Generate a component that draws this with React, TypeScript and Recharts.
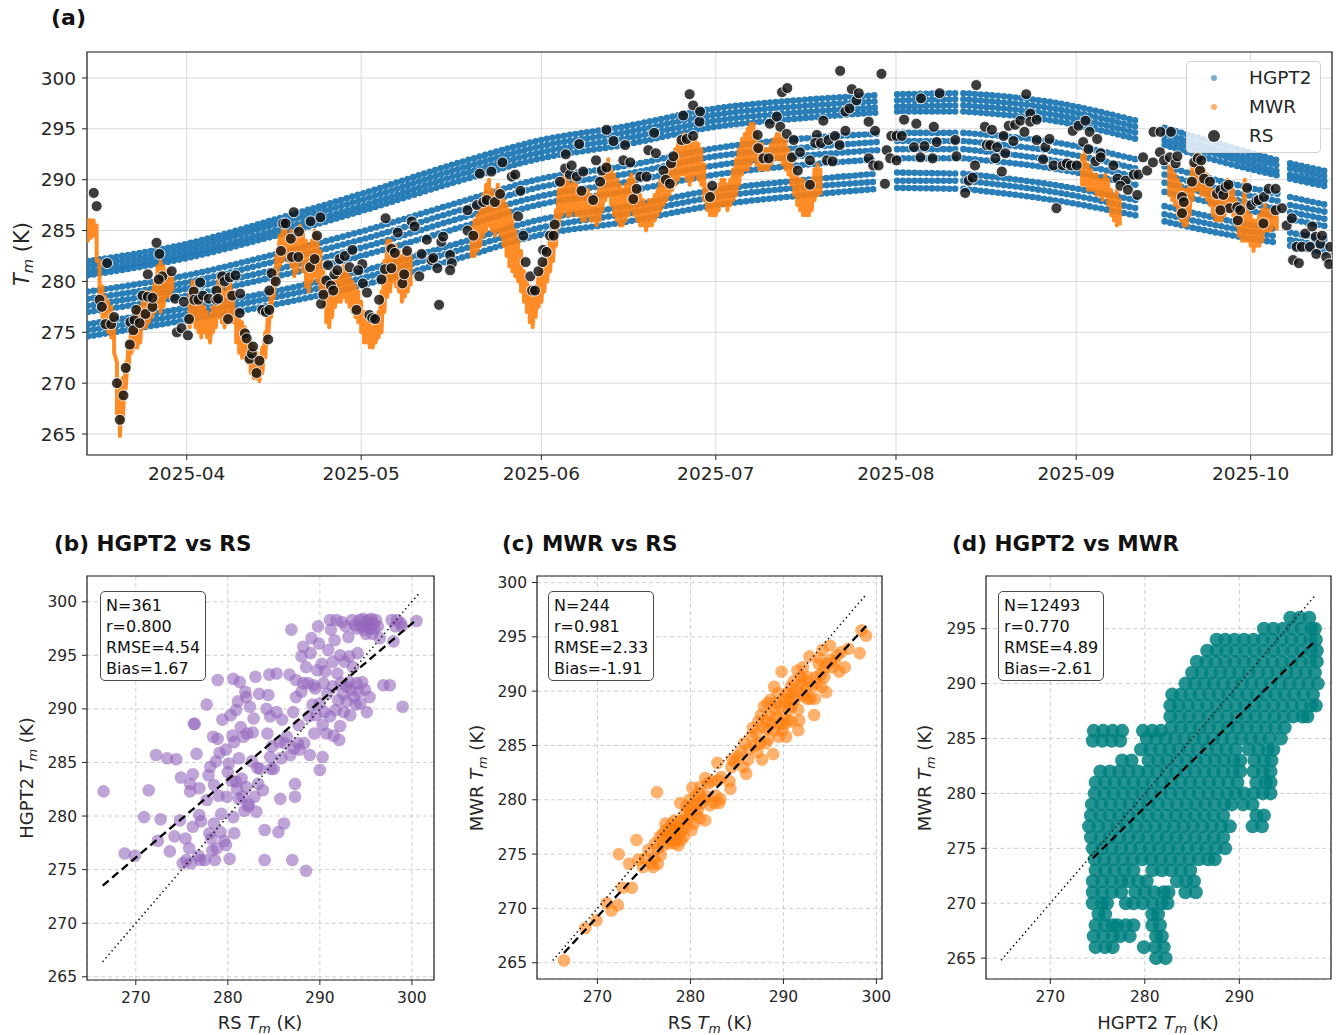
import React from 'react';
import {
  ComposedChart,
  ScatterChart,
  Scatter,
  Line,
  XAxis,
  YAxis,
  CartesianGrid,
  ReferenceArea,
} from 'recharts';

const FONT = '"DejaVu Sans", "Liberation Sans", sans-serif';
const INK = '#262626';

// ---------- panel (a): time series, x = day of year 2025 ----------
const MONTH_TICKS = [91, 121, 152, 182, 213, 244, 274];
const MONTH_LABELS = ['2025-04', '2025-05', '2025-06', '2025-07', '2025-08', '2025-09', '2025-10'];
const TM_TICKS_A = [265, 270, 275, 280, 285, 290, 295, 300];

// HGPT2 bands (one row per hour-of-day band), read about every two weeks; null = gap
const HG_DAYS = [74, 91, 105, 121, 138, 152, 166, 182, 196, 209.8, 211.5, 213.2, 223.7, 224.1, 224.6, 240, 255, 257, 259.2, 270, 278.7, 279.7, 280.8, 287.2];
const HG_ROWS: (number | null)[][] = [
  [282.0, 283.7, 285.9, 288.6, 291.7, 293.9, 295.2, 297.0, 297.8, 298.3, null, 298.4, 298.5, null, 298.5, 297.6, 295.7, null, 295.1, 293.3, 291.9, null, 291.6, 290.8],
  [281.5, 283.2, 285.4, 288.0, 291.1, 293.3, 294.6, 296.4, 297.2, 297.7, null, 297.8, 297.9, null, 297.9, 297.0, 295.1, null, 294.5, 292.7, 291.4, null, 291.1, 290.3],
  [281.0, 282.7, 284.8, 287.4, 290.5, 292.7, 294.0, 295.8, 296.6, 297.1, null, 297.2, 297.3, null, 297.3, 296.4, 294.5, null, 293.9, 292.2, 290.8, null, 290.5, 289.8],
  [280.6, 282.3, 284.3, 286.9, 289.9, 292.1, 293.4, 295.2, 296.0, 296.6, null, 296.7, 296.7, null, 296.7, 295.8, 293.9, null, 293.4, 291.6, 290.4, null, 290.1, 289.3],
  [279.0, 280.6, 282.5, 284.9, 287.8, 290.1, 291.3, 293.1, 294.0, 294.5, null, 294.6, 294.6, null, 294.6, 293.7, 291.9, null, 291.3, 289.7, 288.6, null, 288.3, 287.5],
  [278.3, 279.9, 281.8, 284.1, 287.0, 289.3, 290.5, 292.3, 293.1, 293.7, null, 293.8, 293.8, null, 293.8, 292.8, 291.0, null, 290.5, 288.9, 287.9, null, 287.5, 286.8],
  [277.6, 279.3, 281.0, 283.3, 286.2, 288.4, 289.7, 291.4, 292.3, 292.9, null, 293.0, 293.0, null, 293.0, 291.9, 290.2, null, 289.7, 288.2, 287.1, null, 286.8, 286.1],
  [277.0, 278.6, 280.3, 282.5, 285.3, 287.6, 288.8, 290.5, 291.4, 292.0, null, 292.1, 292.1, null, 292.1, 291.1, 289.4, null, 288.8, 287.4, 286.4, null, 286.1, 285.4],
  [275.8, 277.4, 278.9, 281.0, 283.8, 286.1, 287.3, 289.0, 289.9, 290.6, null, 290.7, 290.6, null, 290.6, 289.5, 287.9, null, 287.4, 286.0, 285.1, null, 284.8, 284.1],
  [275.2, 276.8, 278.3, 280.3, 283.1, 285.3, 286.6, 288.3, 289.2, 289.8, null, 289.9, 289.9, null, 289.9, 288.8, 287.1, null, 286.6, 285.3, 284.4, null, 284.1, 283.4],
  [274.6, 276.2, 277.6, 279.6, 282.3, 284.6, 285.8, 287.5, 288.4, 289.1, null, 289.2, 289.1, null, 289.1, 288.0, 286.4, null, 285.9, 284.6, 283.8, null, 283.5, 282.8],
];

// MWR streaks: [day, upper, lower] every half day
const MWR_MAR: [number, number, number][] = [
  [74, 286.2, 284.0], [74.5, 286.0, 284.3], [75, 286.0, 284.5], [75.5, 285.5, 282.0], [76, 282.0, 278.0],
  [76.5, 279.5, 276.5], [77, 278.5, 275.5], [77.5, 278.0, 275.0], [78, 277.5, 274.5], [78.5, 276.5, 273.0],
  [79, 272.0, 267.0], [79.5, 270.0, 264.8], [80, 270.5, 266.5], [80.5, 272.0, 269.5], [81, 274.0, 271.5],
  [81.5, 276.0, 273.0], [82, 277.0, 273.5], [82.5, 277.5, 273.5], [83, 277.5, 274.0], [83.5, 278.5, 275.5],
  [84, 279.0, 275.5], [84.5, 278.5, 276.0], [85, 279.0, 276.5], [85.5, 280.0, 277.0], [86, 281.5, 277.5],
  [86.5, 282.0, 277.0], [87, 281.5, 277.5], [87.5, 281.0, 278.5], [88, 281.0, 278.5], [88.5, 280.5, 279.0],
];
const MWR_APR: [number, number, number][] = [
  [91.5, 279.0, 275.5], [92, 280.0, 276.0], [92.5, 279.5, 275.5], [93, 278.5, 275.0], [93.5, 278.0, 274.5],
  [94, 277.5, 275.0], [94.5, 277.0, 274.5], [95, 276.5, 274.0], [95.5, 277.5, 275.0], [96, 278.5, 275.5],
  [96.5, 280.5, 276.5], [97, 279.5, 276.0], [97.5, 279.0, 275.5], [98, 279.5, 276.0], [98.5, 280.0, 276.5],
  [99, 279.0, 276.0], [99.5, 277.0, 274.0], [100, 276.5, 273.0], [100.5, 276.0, 272.5], [101, 275.5, 272.5],
  [101.5, 275.0, 272.0], [102, 274.0, 271.0], [102.5, 273.5, 270.5], [103, 273.0, 270.5], [103.5, 272.0, 270.2],
  [104, 273.5, 271.0], [104.5, 275.0, 272.5], [105, 277.0, 274.5], [105.5, 279.0, 276.5], [106, 281.0, 278.5],
  [106.5, 283.0, 280.0], [107, 284.5, 281.5], [107.5, 285.0, 282.0], [108, 285.0, 282.5], [108.5, 284.5, 282.0],
  [109, 285.0, 281.5], [109.5, 284.0, 280.5], [110, 284.5, 281.0], [110.5, 285.5, 282.0], [111, 285.0, 281.0],
  [111.5, 284.0, 279.5], [112, 283.5, 279.0], [112.5, 284.0, 280.0], [113, 285.0, 280.5], [113.5, 284.5, 280.0],
  [114, 283.0, 279.0], [114.5, 281.0, 277.5], [115, 280.0, 276.0], [115.5, 279.5, 275.5], [116, 280.0, 276.5],
  [116.5, 281.0, 277.5], [117, 281.0, 278.0], [117.5, 280.5, 278.0], [118, 281.5, 278.5], [118.5, 281.0, 278.0],
  [119, 280.5, 277.5], [119.5, 280.0, 277.0], [120, 279.5, 276.5], [120.5, 279.0, 276.0], [121, 278.0, 275.0],
  [121.5, 277.0, 274.0], [122, 276.5, 274.0], [122.5, 276.0, 273.5], [123, 275.5, 273.5], [123.5, 276.5, 274.0],
  [124, 277.0, 274.5], [124.5, 279.0, 275.0], [125, 282.0, 277.0], [125.5, 284.0, 278.5], [126, 284.0, 279.0],
  [126.5, 283.5, 280.0], [127, 283.5, 279.5], [127.5, 283.0, 279.0], [128, 282.5, 278.0], [128.5, 283.0, 278.5],
  [129, 283.0, 279.0], [129.5, 282.5, 279.5],
];
const MWR_SUMMER: [number, number, number][] = [
  [140, 285.5, 282.5], [140.5, 286.0, 282.5], [141, 286.5, 283.0], [141.5, 287.0, 283.5], [142, 288.5, 284.5],
  [142.5, 289.5, 285.0], [143, 290.0, 285.5], [143.5, 289.0, 285.0], [144, 288.5, 284.5], [144.5, 289.5, 285.0],
  [145, 289.0, 284.5], [145.5, 288.0, 283.5], [146, 287.5, 282.5], [146.5, 287.0, 281.5], [147, 286.5, 281.0],
  [147.5, 285.0, 280.5], [148, 284.0, 280.0], [148.5, 283.0, 279.0], [149, 281.0, 278.0], [149.5, 280.0, 277.0],
  [150, 279.5, 276.0], [150.5, 279.0, 275.5], [151, 279.5, 276.5], [151.5, 280.5, 277.5], [152, 281.5, 278.0],
  [152.5, 282.0, 279.0], [153, 283.0, 280.0], [153.5, 284.5, 281.0], [154, 285.5, 282.0], [154.5, 287.0, 283.5],
  [155, 289.0, 285.5], [155.5, 290.0, 286.5], [156, 290.5, 287.0], [156.5, 290.0, 286.5], [157, 289.5, 286.5],
  [157.5, 290.0, 287.0], [158, 289.5, 286.5], [158.5, 289.0, 286.5], [159, 289.0, 286.0], [159.5, 288.5, 286.0],
  [160, 289.0, 286.5], [160.5, 288.5, 286.0], [161, 288.0, 286.0], [161.5, 288.5, 285.5], [162, 289.5, 286.0],
  [162.5, 290.5, 287.0], [163, 291.5, 288.0], [163.5, 292.0, 288.5], [164, 291.0, 287.5], [164.5, 290.5, 286.5],
  [165, 290.0, 286.0], [165.5, 289.5, 285.5], [166, 289.0, 285.5], [166.5, 289.5, 286.0], [167, 290.0, 286.5],
  [167.5, 290.5, 287.0], [168, 290.0, 286.5], [168.5, 289.0, 286.0], [169, 288.5, 285.5], [169.5, 288.0, 285.5],
  [170, 287.5, 285.0], [170.5, 288.0, 285.5], [171, 288.0, 285.5], [171.5, 288.5, 286.0], [172, 289.0, 286.5],
  [172.5, 290.0, 287.0], [173, 290.5, 287.5], [173.5, 291.0, 288.0], [174, 291.5, 288.5], [174.5, 292.0, 289.0],
  [175, 293.0, 289.5], [175.5, 293.5, 290.0], [176, 294.0, 290.5], [176.5, 294.5, 290.5], [177, 294.0, 290.0],
  [177.5, 293.5, 289.5], [178, 293.5, 290.0], [178.5, 294.0, 290.5], [179, 293.5, 290.0], [179.5, 293.0, 289.5],
  [180, 291.5, 288.0], [180.5, 289.5, 287.0], [181, 289.0, 286.5], [181.5, 288.5, 286.5], [182, 289.0, 286.5],
  [182.5, 289.5, 287.0], [183, 290.0, 287.5], [183.5, 290.0, 287.5], [184, 289.5, 287.0], [184.5, 290.0, 287.5],
  [185, 291.0, 288.0], [185.5, 292.0, 288.5], [186, 293.0, 289.5], [186.5, 294.0, 290.5], [187, 294.5, 291.0],
  [187.5, 295.0, 291.0], [188, 295.5, 291.5], [188.5, 295.5, 292.0], [189, 294.5, 291.5], [189.5, 293.5, 291.0],
  [190, 293.5, 291.0], [190.5, 293.0, 291.0], [191, 293.0, 291.0], [191.5, 293.5, 291.5], [192, 294.0, 292.0],
  [192.5, 294.5, 292.0], [193, 294.5, 292.0], [193.5, 294.0, 291.5], [194, 294.0, 291.0], [194.5, 293.0, 290.5],
  [195, 292.0, 289.5], [195.5, 291.0, 288.5], [196, 290.5, 287.5], [196.5, 290.0, 287.0], [197, 290.0, 286.5],
  [197.5, 289.5, 286.5], [198, 289.5, 286.5], [198.5, 290.0, 287.0], [199, 291.0, 288.0], [199.5, 291.5, 288.5],
  [200, 291.0, 288.5],
];
const MWR_SEP: [number, number, number][] = [
  [245, 292.5, 289.5], [245.5, 293.0, 289.5], [246, 291.5, 289.0], [246.5, 291.0, 289.0], [247, 290.5, 289.0],
  [247.5, 290.5, 288.5], [248, 290.0, 288.5], [248.5, 290.0, 288.0], [249, 290.5, 288.5], [249.5, 290.0, 287.5],
  [250, 289.0, 286.5], [250.5, 288.5, 286.0], [251, 289.0, 285.5], [251.5, 288.0, 285.5],
];
const MWR_AUTUMN: [number, number, number][] = [
  [260, 291.5, 288.5], [260.5, 291.0, 288.0], [261, 290.5, 287.5], [261.5, 290.0, 286.5], [262, 289.5, 286.0],
  [262.5, 289.0, 285.5], [263, 289.0, 285.5], [263.5, 290.0, 286.5], [264, 291.5, 288.0], [264.5, 292.5, 289.0],
  [265, 292.5, 289.0], [265.5, 291.5, 288.5], [266, 291.0, 288.5], [266.5, 290.5, 288.0], [267, 290.0, 287.5],
  [267.5, 289.0, 286.5], [268, 288.5, 286.0], [268.5, 288.5, 286.0], [269, 289.0, 286.0], [269.5, 289.5, 286.5],
  [270, 290.0, 287.0], [270.5, 289.5, 287.0], [271, 289.0, 286.5], [271.5, 288.0, 285.5], [272, 287.0, 284.5],
  [272.5, 286.5, 284.0], [273, 290.0, 284.0], [273.5, 287.0, 284.0], [274, 286.5, 283.5], [274.5, 286.0, 283.0],
  [275, 286.0, 283.5], [275.5, 286.5, 283.5], [276, 287.0, 284.0], [276.5, 287.5, 285.0], [277, 287.0, 285.0],
  [277.5, 286.5, 285.0], [278, 287.0, 285.5], [278.5, 286.5, 285.0],
];
const MWR_SEGMENTS = [MWR_MAR, MWR_APR, MWR_SUMMER, MWR_SEP, MWR_AUTUMN];

// radiosonde: [day, Tm]
const RS_POINTS: [number, number][] = [
  [75.0, 288.7], [75.5, 287.4], [76.0, 278.2], [76.4, 277.5], [77.3, 281.8], [77.0, 275.8], [78.0, 275.8], [78.5, 276.5],
  [79.0, 270.0], [79.5, 266.4], [80.1, 268.8], [80.5, 271.5], [81.2, 273.8], [81.3, 276.0], [82.0, 276.2], [81.8, 275.2],
  [82.3, 277.2], [82.9, 275.9], [83.4, 278.6], [83.9, 276.8], [84.3, 278.5], [84.3, 280.7], [85.1, 277.5], [85.1, 278.4],
  [85.8, 283.8], [86.3, 282.7], [86.8, 280.5], [86.2, 280.2], [88.4, 281.0], [89.0, 278.3], [89.3, 275.0], [90.1, 275.4],
  [90.5, 278.0], [91.2, 274.7], [91.4, 276.3], [92.2, 279.0], [92.3, 278.2], [93.3, 279.9], [93.0, 278.2], [93.8, 278.6],
  [94.8, 278.3], [96.1, 278.2], [96.1, 279.1], [96.4, 278.3], [97.1, 280.5], [97.5, 280.0], [98.1, 276.3], [98.4, 280.4],
  [99.4, 280.6], [98.8, 278.6], [100.2, 278.8], [100.1, 276.9], [101.0, 274.9], [101.3, 274.4], [101.8, 272.4], [102.2, 272.9],
  [102.4, 273.6], [103.0, 271.0], [103.5, 272.2], [104.0, 277.2], [104.6, 277.0], [105.2, 277.2], [105.0, 274.3], [105.2, 279.1],
  [105.6, 280.8], [106.3, 280.0], [107.2, 283.0], [107.6, 285.7], [108.0, 285.7], [108.9, 284.2], [109.1, 282.4], [109.4, 286.8],
  [110.3, 284.9], [110.2, 282.4], [112.3, 285.9], [112.2, 281.4], [114.1, 277.8], [113.0, 282.2], [113.4, 284.5], [114.0, 286.3],
  [114.5, 278.7], [115.3, 281.6], [115.0, 280.1], [115.8, 279.6], [116.2, 279.1], [116.4, 280.7], [116.9, 281.1], [117.3, 282.2],
  [118.2, 282.5], [119.5, 283.1], [119.0, 281.4], [121.2, 281.7], [121.3, 279.8], [120.2, 277.2], [120.5, 281.1], [122.0, 278.9],
  [122.4, 276.7], [122.9, 276.4], [123.4, 276.3], [124.1, 278.2], [124.5, 280.2], [125.2, 286.2], [125.1, 281.2], [126.2, 283.2],
  [126.8, 282.8], [127.3, 284.8], [126.2, 281.3], [128.1, 279.8], [128.4, 280.7], [128.9, 283.0], [129.7, 285.9], [130.2, 285.4],
  [131.0, 280.5], [131.4, 282.7], [132.3, 284.1], [133.1, 282.1], [133.4, 282.3], [134.1, 281.3], [134.4, 277.7], [134.8, 283.9],
  [135.1, 284.4], [136.3, 282.6], [136.6, 281.8], [136.3, 281.1], [139.3, 287.0], [139.3, 285.0], [140.3, 284.5], [140.9, 287.5],
  [141.4, 290.6], [142.0, 287.8], [142.6, 288.0], [143.4, 290.8], [144.0, 287.8], [144.9, 288.6], [145.3, 291.7], [146.9, 290.3],
  [147.5, 290.5], [148.0, 286.4], [148.4, 288.9], [148.9, 284.5], [149.3, 281.9], [150.1, 280.5], [150.4, 279.1], [150.9, 279.1],
  [151.5, 281.0], [152.2, 281.9], [152.3, 283.1], [152.9, 282.9], [153.5, 284.5], [154.1, 284.5], [154.3, 285.6], [155.2, 289.8],
  [156.2, 292.5], [156.1, 291.1], [156.9, 290.5], [157.2, 291.4], [158.1, 290.3], [158.5, 293.5], [158.9, 288.9], [159.2, 290.8],
  [160.9, 288.0], [161.4, 291.9], [162.1, 289.8], [162.4, 290.9], [163.2, 294.9], [163.2, 291.2], [164.4, 293.8], [166.4, 293.4],
  [166.1, 291.9], [167.3, 291.7], [167.8, 288.1], [168.4, 289.1], [169.0, 290.3], [170.1, 290.3], [170.4, 292.9], [171.4, 294.6],
  [171.7, 292.6], [173.0, 290.9], [173.4, 290.0], [174.1, 289.6], [174.3, 291.6], [174.7, 292.3], [176.4, 296.3], [177.5, 298.4],
  [178.1, 297.3], [179.2, 295.7], [179.3, 296.7], [176.1, 293.9], [177.0, 294.0], [178.1, 294.3], [181.4, 289.4], [181.0, 288.3],
  [189.2, 294.4], [189.3, 293.1], [190.2, 292.1], [191.1, 292.1], [191.3, 295.5], [192.5, 296.2], [193.1, 295.2], [193.4, 298.6],
  [194.3, 299.0], [194.2, 294.5], [195.4, 293.9], [195.1, 292.2], [196.1, 290.9], [196.5, 292.7], [198.2, 291.9], [198.2, 289.5],
  [199.4, 294.4], [199.1, 293.6], [200.5, 295.8], [200.1, 293.6], [201.1, 291.9], [201.4, 293.9], [202.1, 291.8], [202.5, 294.3],
  [203.3, 293.4], [203.4, 300.7], [204.3, 294.8], [204.3, 296.7], [205.0, 297.0], [205.4, 298.9], [206.2, 297.8], [206.6, 298.5],
  [208.3, 295.7], [208.3, 292.1], [209.4, 294.8], [209.1, 291.4], [210.0, 291.4], [210.5, 300.4], [211.1, 289.6], [211.4, 292.9],
  [212.2, 294.3], [213.1, 294.3], [214.0, 294.3], [212.0, 292.1], [213.1, 291.9], [214.4, 295.9], [216.5, 295.5], [217.3, 298.0],
  [216.1, 293.2], [217.9, 293.3], [217.2, 292.2], [219.3, 292.1], [219.5, 295.2], [220.0, 293.7], [220.5, 298.5], [223.2, 293.9],
  [223.4, 292.3], [224.9, 288.7], [225.5, 289.9], [226.2, 290.2], [226.6, 291.4], [226.8, 299.3], [228.3, 295.2], [229.5, 294.9],
  [228.6, 293.4], [229.2, 293.4], [230.4, 293.2], [230.1, 292.1], [231.2, 290.8], [231.5, 294.3], [231.8, 292.6], [232.4, 295.3],
  [233.2, 293.8], [233.5, 295.4], [234.4, 295.8], [235.4, 298.4], [235.1, 294.7], [236.1, 296.5], [236.1, 295.7], [237.2, 295.9],
  [237.2, 293.9], [238.3, 292.0], [238.7, 293.2], [239.4, 294.0], [240.1, 291.4], [240.6, 287.2], [241.7, 291.4], [242.4, 291.6],
  [243.1, 291.4], [243.4, 294.8], [244.1, 291.4], [244.4, 295.3], [245.6, 295.8], [245.2, 293.7], [246.3, 294.7], [246.1, 293.0],
  [247.3, 291.8], [247.6, 294.0], [248.2, 292.6], [248.2, 292.2], [250.4, 291.4], [251.1, 290.1], [252.5, 289.9], [251.6, 289.4],
  [252.9, 289.0], [253.9, 290.5], [254.5, 288.5], [254.7, 290.5], [255.5, 292.2], [256.2, 290.9], [257.3, 294.7], [258.5, 294.7],
  [257.2, 291.7], [258.4, 292.7], [259.1, 291.9], [260.3, 294.7], [260.1, 292.2], [261.1, 291.6], [261.4, 292.3], [262.2, 288.3],
  [262.5, 287.8], [262.2, 286.7], [264.3, 291.7], [265.3, 290.9], [264.9, 292.1], [265.5, 291.9], [263.9, 289.8], [266.0, 290.1],
  [267.0, 289.8], [268.2, 288.6], [268.8, 289.0], [269.3, 288.5], [269.7, 289.3], [270.2, 289.5], [270.4, 287.2], [268.8, 287.0],
  [271.8, 286.0], [271.7, 287.3], [272.2, 287.0], [273.4, 289.2], [274.1, 287.5], [275.0, 287.9], [275.4, 288.0], [276.3, 288.3],
  [276.2, 285.7], [277.1, 289.1], [278.3, 289.1], [278.3, 287.0], [279.4, 287.2], [280.2, 285.5], [281.1, 286.2], [281.3, 282.1],
  [282.3, 281.8], [281.9, 283.4], [282.8, 283.4], [283.4, 284.7], [284.2, 283.4], [284.6, 285.4], [285.2, 284.4], [285.3, 282.7],
  [286.0, 283.7], [286.3, 284.5], [287.0, 282.4], [287.5, 281.7], [287.7, 283.4],
];

// ---------- panel (b): HGPT2 vs RS ----------
const B_POINTS: [number, number][] = [
  [266.5, 282.3], [268.8, 276.5], [269.9, 276.3], [270.9, 279.9], [271.4, 282.4], [272.2, 285.7], [272.7, 279.7], [272.4, 277.7],
  [273.4, 285.4], [273.7, 276.7], [274.4, 285.3], [274.2, 278.1], [274.9, 283.6], [274.8, 279.6], [275.1, 275.6], [275.4, 277.9],
  [275.5, 275.9], [275.9, 283.0], [275.9, 282.3], [275.8, 277.0], [276.0, 275.6], [276.2, 283.9], [276.2, 279.0], [276.3, 288.6],
  [276.4, 288.6], [276.6, 285.8], [276.8, 276.3], [276.9, 280.1], [276.9, 282.6], [277.1, 279.5], [277.0, 275.9], [277.5, 275.9],
  [277.7, 290.4], [277.7, 281.5], [277.9, 283.8], [278.0, 278.4], [278.1, 284.6], [278.2, 277.9], [278.3, 276.8], [278.4, 287.4],
  [278.5, 282.9], [278.5, 279.3], [278.6, 275.9], [278.7, 285.1], [278.8, 277.0], [278.9, 292.7], [278.9, 287.2], [279.0, 281.9],
  [279.1, 285.9], [279.2, 278.5], [279.3, 280.2], [279.4, 289.0], [279.6, 277.7], [279.8, 277.3], [279.8, 286.2], [279.9, 281.8],
  [280.0, 284.1], [280.1, 284.9], [280.2, 276.0], [280.3, 289.4], [280.4, 283.3], [280.5, 287.5], [280.6, 279.9], [280.6, 292.8],
  [280.7, 278.4], [280.7, 286.9], [280.9, 289.9], [280.9, 283.2], [281.0, 282.5], [281.1, 290.7], [281.2, 281.6], [281.2, 285.4],
  [281.3, 292.5], [281.4, 288.3], [281.5, 283.5], [281.6, 281.8], [281.7, 287.4], [281.8, 280.5], [281.9, 291.6], [282.0, 282.7],
  [282.0, 291.1], [282.1, 287.7], [282.2, 280.9], [282.3, 281.1], [282.4, 290.2], [282.6, 285.1], [282.7, 287.8], [282.8, 289.1],
  [282.9, 281.8], [283.0, 293.0], [283.1, 280.4], [283.2, 284.5], [283.3, 283.0], [283.4, 291.4], [283.5, 284.4], [283.8, 282.4],
  [284.0, 275.9], [284.0, 278.7], [284.2, 290.0], [284.3, 287.7], [284.4, 291.3], [284.5, 293.2], [284.6, 289.3], [284.6, 285.5],
  [284.7, 284.4], [284.8, 286.5], [285.0, 284.4], [285.3, 293.3], [285.3, 289.7], [285.5, 278.5], [285.6, 286.9], [285.7, 281.6],
  [285.8, 285.4], [285.9, 289.0], [286.1, 279.3], [286.2, 286.8], [286.4, 287.4], [286.7, 293.2], [286.8, 285.7], [286.9, 297.4],
  [287.0, 275.9], [287.1, 289.7], [287.2, 286.3], [287.3, 281.8], [287.3, 283.0], [287.4, 291.1], [287.4, 292.7], [287.6, 286.8],
  [287.7, 288.5], [287.8, 286.2], [288.0, 291.6], [288.0, 294.9], [288.2, 292.4], [288.2, 295.8], [288.3, 286.8], [288.5, 274.9],
  [288.5, 293.9], [288.7, 292.4], [288.8, 289.3], [288.9, 285.7], [289.0, 295.2], [289.1, 296.6], [289.2, 290.4], [289.3, 292.2],
  [289.4, 287.7], [289.5, 291.9], [289.6, 289.4], [289.7, 293.6], [289.8, 297.7], [289.9, 296.1], [290.0, 284.3], [290.0, 290.5],
  [290.2, 294.2], [290.3, 288.5], [290.3, 285.5], [290.4, 292.4], [290.5, 289.7], [290.6, 293.5], [290.7, 287.7], [290.8, 291.4],
  [290.9, 295.5], [291.1, 298.3], [291.1, 289.3], [291.2, 297.4], [291.4, 292.1], [291.4, 294.4], [291.5, 287.5], [291.6, 296.4],
  [291.7, 289.9], [291.8, 298.3], [291.9, 293.3], [292.0, 290.8], [292.1, 287.1], [292.2, 295.0], [292.2, 288.4], [292.3, 292.4],
  [292.4, 298.1], [292.5, 291.4], [292.6, 289.7], [292.7, 294.4], [292.8, 297.7], [292.9, 292.1], [292.9, 290.7], [293.1, 296.7],
  [293.2, 294.9], [293.2, 292.5], [293.3, 289.4], [293.4, 291.8], [293.5, 298.3], [293.6, 293.9], [293.7, 291.1], [293.8, 297.8],
  [293.9, 290.4], [294.0, 292.4], [294.0, 297.5], [294.1, 295.2], [294.2, 291.6], [294.3, 298.3], [294.4, 290.5], [294.5, 297.7],
  [294.6, 292.5], [294.7, 298.4], [294.8, 297.4], [294.9, 291.8], [295.0, 298.1], [295.0, 297.0], [295.1, 289.7], [295.2, 297.8],
  [295.3, 298.3], [295.4, 291.1], [295.5, 297.5], [295.6, 298.4], [295.7, 297.0], [295.8, 298.0], [295.9, 297.5], [296.1, 298.3],
  [296.3, 297.7], [296.5, 296.6], [296.9, 292.2], [297.6, 292.2], [297.8, 298.3], [298.0, 296.3], [298.2, 297.7], [298.4, 298.3],
  [298.8, 298.0], [298.9, 297.7], [299.0, 290.2], [300.5, 298.2],
];
const B_FIT: [number, number][] = [[266.4, 273.5], [300.6, 298.4]];
const B_ONE = [266.4, 300.8];
const B_STATS = ['N=361', 'r=0.800', 'RMSE=4.54', 'Bias=1.67'];

// ---------- panel (c): MWR vs RS ----------
const C_POINTS: [number, number][] = [
  [266.4, 265.2], [268.7, 268.2], [269.9, 268.9], [271.0, 270.5], [271.5, 269.8], [272.2, 270.3], [272.3, 275.0], [272.7, 271.9],
  [273.4, 274.1], [273.7, 271.9], [274.2, 276.3], [274.4, 274.5], [274.9, 273.8], [275.1, 274.6], [275.5, 275.4], [275.8, 274.1],
  [276.0, 273.8], [276.1, 274.6], [276.2, 276.0], [276.4, 280.7], [276.5, 274.1], [276.5, 275.5], [276.7, 276.6], [276.8, 274.9],
  [277.0, 276.8], [277.1, 275.8], [277.3, 277.2], [277.3, 277.8], [277.4, 276.4], [277.6, 276.9], [277.7, 276.0], [277.8, 277.4],
  [277.9, 276.3], [278.0, 277.8], [278.1, 276.8], [278.2, 277.2], [278.3, 276.0], [278.3, 278.1], [278.4, 277.1], [278.5, 276.3],
  [278.6, 277.5], [278.7, 275.8], [278.8, 276.8], [278.9, 278.0], [278.9, 279.7], [279.0, 276.3], [279.1, 277.2], [279.2, 278.1],
  [279.3, 276.6], [279.4, 278.7], [279.5, 277.5], [279.6, 279.4], [279.7, 278.1], [279.8, 279.1], [279.9, 280.0], [280.0, 278.6],
  [280.1, 277.2], [280.2, 281.1], [280.3, 279.4], [280.4, 277.8], [280.5, 280.3], [280.6, 278.7], [280.7, 279.7], [280.8, 279.1],
  [280.9, 280.6], [281.0, 278.3], [281.1, 281.2], [281.2, 279.7], [281.4, 280.1], [281.6, 278.1], [281.6, 282.0], [281.8, 280.3],
  [281.9, 281.5], [282.1, 279.5], [282.3, 281.7], [282.6, 279.7], [282.7, 280.4], [282.9, 283.4], [283.0, 281.8], [283.1, 279.7],
  [283.2, 280.1], [283.3, 282.1], [284.2, 281.7], [284.3, 281.0], [284.4, 283.0], [284.5, 283.7], [284.8, 283.5], [285.1, 284.0],
  [285.4, 284.4], [285.7, 283.0], [285.8, 285.2], [286.0, 282.4], [286.2, 283.7], [286.3, 284.7], [286.6, 285.8], [286.7, 286.6],
  [286.9, 285.0], [287.1, 286.1], [287.2, 284.4], [287.3, 287.2], [287.5, 285.2], [287.6, 287.8], [287.7, 283.7], [287.8, 286.7],
  [287.9, 288.6], [288.1, 285.2], [288.2, 287.3], [288.3, 288.9], [288.3, 286.5], [288.4, 285.6], [288.5, 287.8], [288.6, 289.2],
  [288.7, 287.0], [288.9, 284.2], [289.0, 290.4], [289.1, 288.3], [289.1, 286.4], [289.2, 288.9], [289.3, 287.6], [289.4, 289.8],
  [289.5, 285.8], [289.6, 287.0], [289.7, 288.6], [289.8, 291.8], [289.9, 286.4], [290.0, 287.6], [290.1, 289.3], [290.1, 287.0],
  [290.2, 288.9], [290.3, 285.8], [290.4, 289.8], [290.5, 287.3], [290.6, 288.3], [290.7, 289.3], [290.8, 290.4], [290.9, 287.2],
  [290.9, 288.6], [291.0, 289.8], [291.1, 290.9], [291.2, 289.2], [291.4, 290.1], [291.5, 291.9], [291.6, 288.3], [291.6, 286.4],
  [291.7, 287.3], [291.9, 290.7], [291.9, 291.3], [292.0, 289.8], [292.1, 292.2], [292.2, 289.5], [292.3, 291.0], [292.5, 290.2],
  [292.6, 291.3], [292.6, 289.3], [292.8, 293.2], [292.9, 289.3], [293.1, 290.4], [293.3, 287.8], [293.4, 289.3], [293.5, 291.3],
  [293.6, 290.7], [293.8, 292.5], [293.9, 293.0], [294.0, 291.5], [294.1, 290.4], [294.2, 293.8], [294.4, 292.1], [294.4, 291.3],
  [294.6, 289.9], [294.7, 292.5], [295.0, 294.2], [295.1, 292.9], [295.3, 292.2], [295.5, 292.7], [295.8, 293.3], [296.0, 291.8],
  [296.2, 293.6], [296.6, 292.2], [297.0, 293.9], [298.2, 293.5], [298.4, 295.6], [298.9, 295.1],
];
const C_FIT: [number, number][] = [[266.4, 265.9], [298.9, 296.0]];
const C_ONE = [265.2, 298.9];
const C_STATS = ['N=244', 'r=0.981', 'RMSE=2.33', 'Bias=-1.91'];

// ---------- panel (d): MWR vs HGPT2, rows of [MWR Tm, HGPT2 Tm values] ----------
const D_ROWS: [number, number[]][] = [
  [296, [295.4, 296.4, 297.4]],
  [295, [292.6, 293.6, 294.6, 295.6, 296.6, 297.6, 298.0]],
  [294, [287.6, 288.5, 289.5, 290.5, 291.5, 292.5, 293.5, 294.5, 295.5, 296.5, 297.5, 298.1]],
  [293, [286.6, 287.6, 288.6, 289.6, 290.6, 291.6, 292.6, 293.6, 294.6, 295.6, 296.6, 297.6, 298.2]],
  [292, [285.5, 286.5, 287.5, 288.5, 289.5, 290.5, 291.5, 292.5, 293.5, 294.5, 295.5, 296.5, 297.5, 298.2]],
  [291, [285.0, 286.0, 287.0, 288.0, 289.0, 290.0, 291.0, 292.0, 293.0, 294.0, 295.0, 296.0, 297.0, 298.0]],
  [290, [284.3, 285.3, 286.3, 287.3, 288.3, 289.3, 290.3, 291.3, 292.3, 293.3, 294.3, 295.3, 296.3, 297.3, 298.3]],
  [289, [282.9, 283.8, 284.8, 285.8, 286.8, 287.8, 288.8, 289.8, 290.8, 291.8, 292.8, 293.8, 294.8, 295.8, 296.8, 297.8]],
  [288, [282.7, 283.6, 284.6, 285.6, 286.6, 287.6, 288.6, 289.6, 290.6, 291.6, 292.6, 293.6, 294.6, 295.6, 296.6, 297.6, 298.1]],
  [287, [282.7, 283.7, 284.7, 285.7, 286.7, 287.7, 288.7, 289.7, 290.7, 291.7, 292.7, 293.7, 294.7, 295.7, 296.7, 297.2]],
  [286, [282.8, 283.8, 284.8, 285.8, 286.8, 287.8, 288.8, 289.8, 290.8, 291.8, 292.8, 293.8, 294.8]],
  [285.7, [274.6, 275.6, 276.6, 277.6, 279.8, 280.8, 281.7]],
  [285, [280.2, 281.2, 282.2, 283.2, 284.2, 285.2, 286.2, 287.2, 288.2, 289.2, 290.2, 291.2, 292.2, 293.2, 294.4]],
  [284.8, [274.5, 275.5, 276.5, 277.4]],
  [284, [279.6, 280.6, 281.6, 282.6, 283.6, 284.6, 285.6, 286.6, 287.6, 288.6, 289.6, 291.0, 292.0, 293.0, 293.6]],
  [283, [277.6, 278.6, 280.4, 281.4, 282.4, 283.4, 284.4, 285.4, 286.4, 287.4, 288.4, 289.4, 290.1, 291.6, 292.6, 293.4]],
  [282, [275.3, 276.3, 277.3, 278.3, 279.3, 280.3, 281.3, 282.3, 283.3, 284.3, 285.3, 286.3, 287.3, 288.3, 289.3, 290.1, 291.5, 292.5, 293.3]],
  [281, [274.8, 275.8, 276.8, 277.8, 278.8, 279.8, 280.8, 281.8, 282.8, 283.8, 284.8, 285.8, 286.8, 287.8, 288.8, 289.8, 291.8, 292.8, 293.3]],
  [280, [274.7, 275.7, 276.7, 277.7, 278.7, 279.7, 280.7, 281.7, 282.7, 283.7, 284.7, 285.7, 286.7, 287.7, 288.7, 289.6, 290.5, 291.5, 292.5, 293.3]],
  [279, [274.4, 275.4, 276.4, 277.4, 278.4, 279.4, 280.4, 281.4, 282.4, 283.4, 284.4, 285.4, 286.4, 287.4, 288.4, 289.2, 290.4, 291.4]],
  [278, [274.3, 275.3, 276.3, 277.3, 278.3, 279.3, 280.3, 281.3, 282.3, 283.3, 284.3, 285.3, 286.3, 287.3, 288.3, 291.8, 292.6]],
  [277, [274.1, 275.1, 276.1, 277.1, 278.1, 279.1, 280.1, 281.1, 282.1, 283.1, 284.1, 285.1, 286.1, 287.1, 288.1, 289.0, 291.4, 292.4]],
  [276, [274.3, 275.3, 276.3, 277.3, 278.3, 279.3, 280.3, 281.3, 282.3, 283.3, 284.3, 285.3, 286.3, 287.3, 288.3]],
  [275, [274.5, 275.5, 276.5, 277.5, 278.5, 279.5, 280.5, 281.5, 282.5, 283.5, 284.5, 285.5, 286.5, 287.5, 288.5]],
  [274, [274.7, 275.7, 276.7, 277.7, 278.7, 279.7, 280.7, 281.7, 282.7, 283.7, 284.7, 285.7, 286.7, 287.4]],
  [273, [274.8, 275.8, 276.8, 277.8, 278.8, 280.8, 281.8, 282.8, 283.8, 284.8]],
  [272, [274.5, 275.5, 276.5, 277.5, 278.3, 279.3, 280.2, 283.4, 284.4, 285.2]],
  [271, [274.5, 275.5, 276.5, 277.5, 279.0, 280.0, 281.0, 282.0, 282.5, 284.3, 285.4]],
  [270, [274.5, 275.5, 276.0, 278.0, 278.8, 279.8, 280.8, 281.8, 282.4]],
  [269, [275.1, 275.8, 280.8, 281.4]],
  [268, [274.8, 275.8, 276.6, 277.1, 278.0, 278.8, 280.8, 281.6]],
  [267, [274.6, 275.6, 276.6, 277.4, 278.4, 281.2, 281.8]],
  [266, [274.8, 275.8, 276.6, 279.9, 281.1, 282.0]],
  [265, [281.2, 282.2]],
];
const D_FIT: [number, number][] = [[274.5, 274.1], [297.8, 293.7]];
const D_ONE = [264.8, 298.1];
const D_STATS = ['N=12493', 'r=0.770', 'RMSE=4.89', 'Bias=-2.61'];

const TICK_A = { fontSize: 18.5, fill: INK, fontFamily: FONT };
const TICK_S = { fontSize: 15.5, fill: INK, fontFamily: FONT };

const Tm = () => (
  <>
    <i>T</i>
    <span style={{ fontStyle: 'italic', fontSize: '0.7em', position: 'relative', top: '0.3em' }}>m</span>
  </>
);

const abs = (left: number, top: number): React.CSSProperties => ({ position: 'absolute', left, top });
const noDot = () => <g />;

function AxisLabel({ x, y, size, rotate, children }: any) {
  return (
    <div
      style={{
        position: 'absolute',
        left: x,
        top: y,
        transform: `translate(-50%, -50%)${rotate ? ' rotate(-90deg)' : ''}`,
        whiteSpace: 'nowrap',
        fontSize: size,
        color: INK,
        lineHeight: 1,
      }}
    >
      {children}
    </div>
  );
}

function StatsBox({ x, lines }: { x: number; lines: string[] }) {
  return (
    <div
      style={{
        ...abs(x, 591),
        width: 106,
        height: 90,
        border: '1.3px solid #4a4a4a',
        borderRadius: 5,
        background: 'rgba(255,255,255,0.9)',
        boxSizing: 'border-box',
        padding: '3px 0 0 5px',
        fontSize: 16,
        lineHeight: '21px',
        color: '#111',
        whiteSpace: 'nowrap',
      }}
    >
      {lines.map((l) => (
        <div key={l}>{l}</div>
      ))}
    </div>
  );
}

type Rect = { x: number; y: number; w: number; h: number };

function ScatterPanel({
  rect, xDom, yDom, xTicks, yTicks, points, color, fit, one, r, alpha,
}: {
  rect: Rect; xDom: number[]; yDom: number[]; xTicks: number[]; yTicks: number[];
  points: { x: number; y: number }[]; color: string; fit: [number, number][]; one: number[];
  r: number; alpha: number;
}) {
  const oneLine = [{ x: one[0], y: one[0] }, { x: one[1], y: one[1] }];
  const fitLine = fit.map(([x, y]) => ({ x, y }));
  return (
    <div style={abs(rect.x - 60, rect.y - 10)}>
      <ScatterChart width={rect.w + 70} height={rect.h + 50} margin={{ top: 10, right: 10, bottom: 0, left: 0 }}>
        <CartesianGrid stroke="#c9c9c9" strokeDasharray="4 3" strokeWidth={0.9} />
        <XAxis
          type="number" dataKey="x" domain={xDom} ticks={xTicks} allowDataOverflow
          height={40} tickSize={5} tickMargin={7} axisLine={false}
          tick={TICK_S} tickLine={{ stroke: INK }}
        />
        <YAxis
          type="number" dataKey="y" domain={yDom} ticks={yTicks} allowDataOverflow
          width={60} tickSize={5} tickMargin={5} axisLine={false}
          tick={TICK_S} tickLine={{ stroke: INK }}
        />
        <Scatter
          data={points}
          isAnimationActive={false}
          shape={(p: any) => <circle cx={p.cx} cy={p.cy} r={r} fill={color} fillOpacity={alpha} />}
        />
        <Scatter
          data={oneLine}
          isAnimationActive={false}
          shape={noDot}
          line={{ stroke: '#111', strokeWidth: 1.6, strokeDasharray: '1.4 3.2' }}
        />
        <Scatter
          data={fitLine}
          isAnimationActive={false}
          shape={noDot}
          line={{ stroke: '#000', strokeWidth: 2.3, strokeDasharray: '8 4.5' }}
        />
        <ReferenceArea
          x1={xDom[0]} x2={xDom[1]} y1={yDom[0]} y2={yDom[1]}
          fill="none" fillOpacity={0} stroke="#222" strokeWidth={1.2} ifOverflow="visible"
        />
      </ScatterChart>
    </div>
  );
}

export default function App() {
  const xDomA = [73.84, 288.0];
  const yDomA = [262.94, 302.55];

  const mwrData: { day: number; v: number | null }[] = [];
  MWR_SEGMENTS.forEach((seg, k) => {
    if (k > 0) mwrData.push({ day: seg[0][0] - 0.5, v: null });
    seg.forEach(([d, hi, lo]) => {
      mwrData.push({ day: d, v: hi });
      mwrData.push({ day: d, v: lo });
    });
  });
  const rsData = RS_POINTS.map(([day, v]) => ({ day, v }));

  const bPts = B_POINTS.map(([x, y]) => ({ x, y }));
  const cPts = C_POINTS.map(([x, y]) => ({ x, y }));
  const dPts = D_ROWS.flatMap(([y, xs]) => xs.map((x) => ({ x, y })));

  return (
    <div
      style={{
        position: 'absolute', left: 0, top: 0, width: 1336, height: 1035,
        background: '#fff', fontFamily: FONT, overflow: 'hidden',
      }}
    >
      {/* panel (a) */}
      <div style={abs(0, 0)}>
        <ComposedChart width={1336} height={500} margin={{ top: 52, right: 4, bottom: 0, left: 0 }}>
          <CartesianGrid stroke="#dadada" strokeWidth={1} />
          <XAxis
            type="number" dataKey="day" domain={xDomA} ticks={MONTH_TICKS} allowDataOverflow
            tickFormatter={(v: number) => MONTH_LABELS[MONTH_TICKS.indexOf(v)]}
            height={45} tickSize={5} tickMargin={7} axisLine={false}
            tick={TICK_A} tickLine={{ stroke: INK }}
          />
          <YAxis
            type="number" dataKey="v" domain={yDomA} ticks={TM_TICKS_A} allowDataOverflow
            width={87} tickSize={5} tickMargin={6} axisLine={false}
            tick={TICK_A} tickLine={{ stroke: INK }}
          />
          {HG_ROWS.map((row, i) => (
            <Line
              key={`hg${i}`}
              data={HG_DAYS.map((d, j) => ({ day: d, v: row[j] }))}
              dataKey="v"
              type="monotone"
              stroke="#1f77b4"
              strokeOpacity={0.95}
              strokeWidth={6.6}
              strokeDasharray="0 5.8"
              strokeLinecap="round"
              dot={false}
              activeDot={false}
              isAnimationActive={false}
            />
          ))}
          <Line
            data={mwrData}
            dataKey="v"
            type="linear"
            stroke="#ff7f0e"
            strokeOpacity={0.9}
            strokeWidth={4}
            strokeLinejoin="round"
            dot={false}
            activeDot={false}
            isAnimationActive={false}
          />
          <Scatter
            data={rsData}
            dataKey="v"
            isAnimationActive={false}
            shape={(p: any) => (
              <circle cx={p.cx} cy={p.cy} r={5.5} fill="#111" fillOpacity={0.82} stroke="#fff" strokeOpacity={0.85} strokeWidth={1} />
            )}
          />
          <ReferenceArea
            x1={xDomA[0]} x2={xDomA[1]} y1={yDomA[0]} y2={yDomA[1]}
            fill="none" fillOpacity={0} stroke="#222" strokeWidth={1.2} ifOverflow="visible"
          />
        </ComposedChart>
      </div>

      {/* legend of (a) */}
      <div
        style={{
          ...abs(1186, 61), width: 135, height: 92, boxSizing: 'border-box',
          border: '1px solid #d4d4d4', borderRadius: 4, background: 'rgba(255,255,255,0.8)',
        }}
      >
        {[
          { label: 'HGPT2', r: 3.3, fill: '#1f77b4', op: 0.6, edge: false },
          { label: 'MWR', r: 3.3, fill: '#ff7f0e', op: 0.6, edge: false },
          { label: 'RS', r: 6, fill: '#111', op: 0.82, edge: true },
        ].map((e, i) => (
          <div key={e.label}>
            <div
              style={{
                position: 'absolute', left: 27 - e.r, top: 16 + i * 29 - e.r,
                width: e.r * 2, height: e.r * 2, borderRadius: '50%',
                background: e.fill, opacity: e.op,
                boxShadow: e.edge ? '0 0 0 1px rgba(255,255,255,0.85)' : 'none',
              }}
            />
            <div style={{ position: 'absolute', left: 62, top: 16 + i * 29 - 11, fontSize: 18.5, lineHeight: '22px', color: INK }}>
              {e.label}
            </div>
          </div>
        ))}
      </div>

      {/* panels (b) (c) (d) */}
      <ScatterPanel
        rect={{ x: 87, y: 576, w: 347, h: 404 }}
        xDom={[264.7, 302.4]} yDom={[264.7, 302.4]}
        xTicks={[270, 280, 290, 300]} yTicks={[265, 270, 275, 280, 285, 290, 295, 300]}
        points={bPts} color="#9467bd" fit={B_FIT} one={B_ONE} r={6.3} alpha={0.6}
      />
      <ScatterPanel
        rect={{ x: 537, y: 576, w: 345, h: 403 }}
        xDom={[263.5, 300.6]} yDom={[263.5, 300.6]}
        xTicks={[270, 280, 290, 300]} yTicks={[265, 270, 275, 280, 285, 290, 295, 300]}
        points={cPts} color="#ff7f0e" fit={C_FIT} one={C_ONE} r={6.3} alpha={0.6}
      />
      <ScatterPanel
        rect={{ x: 986, y: 576, w: 345, h: 403 }}
        xDom={[263.2, 299.7]} yDom={[263.1, 299.8]}
        xTicks={[270, 280, 290]} yTicks={[265, 270, 275, 280, 285, 290, 295]}
        points={dPts} color="#008080" fit={D_FIT} one={D_ONE} r={7} alpha={0.85}
      />

      <StatsBox x={100} lines={B_STATS} />
      <StatsBox x={548} lines={C_STATS} />
      <StatsBox x={998} lines={D_STATS} />

      {/* titles */}
      <div style={{ ...abs(51, 5), fontSize: 22, fontWeight: 'bold', color: '#111' }}>(a)</div>
      <div style={{ ...abs(54, 531), fontSize: 21.5, fontWeight: 'bold', color: '#111', whiteSpace: 'nowrap' }}>(b) HGPT2 vs RS</div>
      <div style={{ ...abs(502, 531), fontSize: 21.5, fontWeight: 'bold', color: '#111', whiteSpace: 'nowrap' }}>(c) MWR vs RS</div>
      <div style={{ ...abs(952, 531), fontSize: 21.5, fontWeight: 'bold', color: '#111', whiteSpace: 'nowrap' }}>(d) HGPT2 vs MWR</div>

      {/* axis labels */}
      <AxisLabel x={22} y={254} size={21} rotate><Tm /> (K)</AxisLabel>
      <AxisLabel x={27} y={778} size={18} rotate>HGPT2 <Tm /> (K)</AxisLabel>
      <AxisLabel x={477} y={778} size={18} rotate>MWR <Tm /> (K)</AxisLabel>
      <AxisLabel x={925} y={778} size={18} rotate>MWR <Tm /> (K)</AxisLabel>
      <AxisLabel x={260} y={1023} size={18}>RS <Tm /> (K)</AxisLabel>
      <AxisLabel x={710} y={1023} size={18}>RS <Tm /> (K)</AxisLabel>
      <AxisLabel x={1158} y={1023} size={18}>HGPT2 <Tm /> (K)</AxisLabel>
    </div>
  );
}
